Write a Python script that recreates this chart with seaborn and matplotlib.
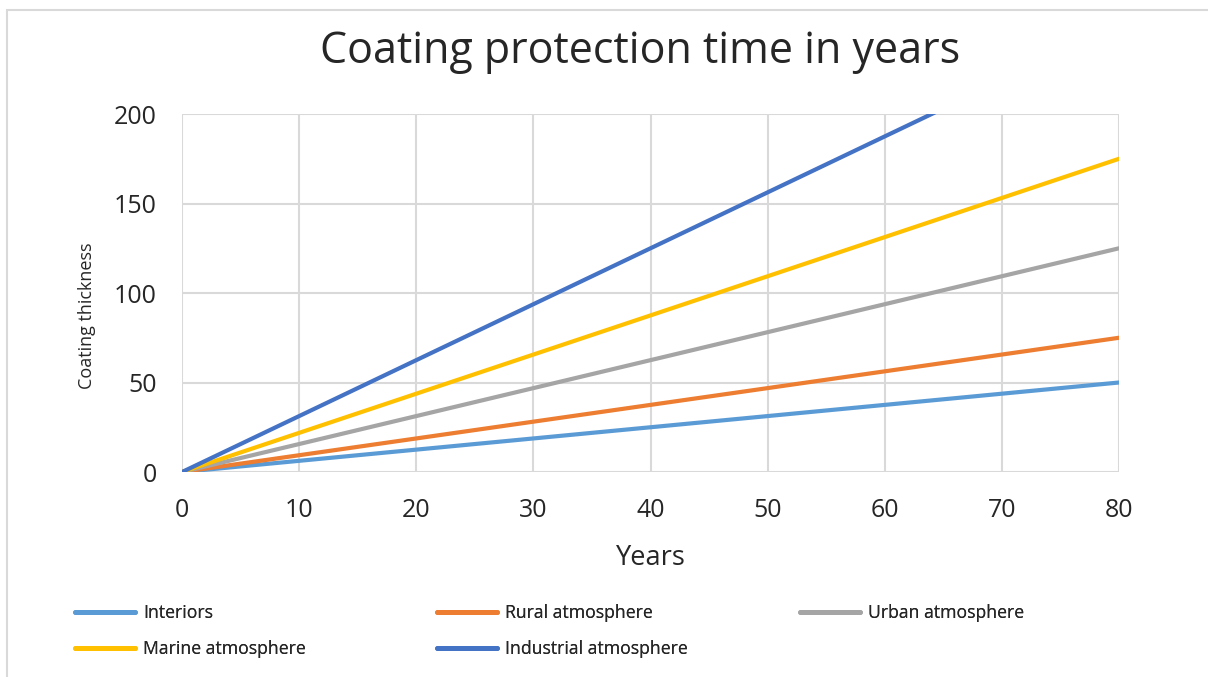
import pandas as pd
import matplotlib.pyplot as plt
import seaborn as sns

years = [0, 10, 20, 30, 40, 50, 60, 70, 80]
interiors = [0, 6.25, 12.5, 18.75, 25, 31.25, 37.5, 43.75, 50]
rural = [0, 9.375, 18.75, 28.125, 37.5, 46.875, 56.25, 65.625, 75]
urban = [0, 15.625, 31.25, 46.875, 62.5, 78.125, 93.75, 109.375, 125]
marine = [0, 21.875, 43.75, 65.625, 87.5, 109.375, 131.25, 153.125, 175]
industrial = [0, 31.25, 62.5, 93.75, 125, 156.25, 187.5, 218.75, 250]

series_names = ['Interiors', 'Rural atmosphere', 'Urban atmosphere',
                'Marine atmosphere', 'Industrial atmosphere']
series_values = [interiors, rural, urban, marine, industrial]
colores = ['#5B9BD5', '#ED7D31', '#A5A5A5', '#FFC000', '#4472C4']

rows = []
for nome, vals in zip(series_names, series_values):
    for x, y in zip(years, vals):
        rows.append({'Years': x, 'Coating thickness': y, 'serie': nome})
df = pd.DataFrame(rows)

sns.set_style('whitegrid', {'grid.color': '#D9D9D9'})
plt.rcParams['font.family'] = ['Open Sans', 'DejaVu Sans']

fig = plt.figure(figsize=(12.08, 6.77), dpi=100)
ax = fig.add_axes([0.1507, 0.3028, 0.7757, 0.5288])

sns.lineplot(data=df, x='Years', y='Coating thickness', hue='serie',
             palette=colores, linewidth=3, ax=ax, legend=False)

ax.set_xlim(0, 80)
ax.set_ylim(0, 200)
ax.set_xticks(range(0, 81, 10))
ax.set_yticks(range(0, 201, 50))
ax.tick_params(axis='both', labelsize=18, colors='#262626', length=0)
ax.tick_params(axis='y', pad=18)
ax.tick_params(axis='x', pad=19)
ax.grid(True, color='#D9D9D9', linewidth=1.5)
for s in ax.spines.values():
    s.set_visible(False)

ax.set_xlabel('Years', fontsize=19.5, color='#262626', labelpad=15)
ax.set_ylabel('Coating thickness', fontsize=13, color='#262626')
ax.yaxis.set_label_coords(-0.092, 0.436)
fig.text(0.53, 0.923, 'Coating protection time in years', fontsize=31,
         color='#262626', ha='center', va='center')

# legend in three separate columns to place them like the original
columnas = [([0, 3], 0.062), ([1, 4], 0.362), ([2], 0.662)]
for idxs, xpos in columnas:
    hs = [plt.Line2D([], [], color=colores[i], linewidth=3.5) for i in idxs]
    labs = [series_names[i] for i in idxs]
    leg = fig.legend(hs, labs, loc='upper left', bbox_to_anchor=(xpos, 0.108),
                     frameon=False, fontsize=12.7, borderpad=0, borderaxespad=0,
                     handlelength=3.4, handletextpad=0.45, labelspacing=1.04,
                     labelcolor='#262626')
    fig.add_artist(leg)

fig.add_artist(plt.Rectangle((0.006, -0.05), 1.2, 1.035, transform=fig.transFigure,
                             fill=False, edgecolor='#D9D9D9', linewidth=1.5))

plt.savefig('out.png', dpi=100)
